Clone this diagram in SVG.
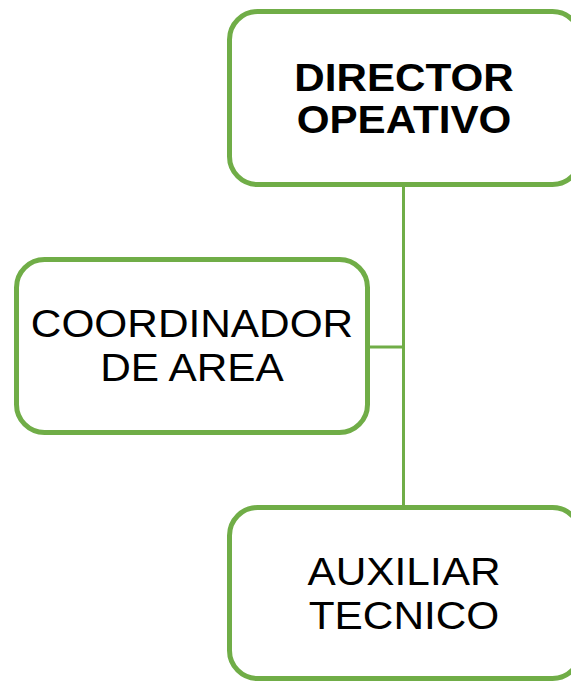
<svg xmlns="http://www.w3.org/2000/svg" width="571" height="681" viewBox="0 0 571 681">
<style>
.box{fill:#fff;stroke:#70AD47;stroke-width:5}
.conn{stroke:#70AD47;stroke-width:3;fill:none}
.t{font-family:"Liberation Sans",Arial,sans-serif;font-size:38.5px;text-anchor:middle;fill:#000}
.b{font-weight:bold}
</style>
<rect width="571" height="681" fill="#fff"/>
<g id="connectors">
<path class="conn" d="M403.5 187 V507"/>
<path class="conn" d="M369 347 H403.5"/>
</g>
<g id="director">
<rect class="box" x="229.5" y="11.5" width="351" height="173" rx="28"/>
<g transform="translate(404,0) scale(1.095,1)">
<text class="t b" x="0" y="91">DIRECTOR</text>
<text class="t b" x="0" y="133">OPEATIVO</text>
</g>
</g>
<g id="coordinador">
<rect class="box" x="16.5" y="259.5" width="351" height="173" rx="28"/>
<g transform="translate(192,0) scale(1.1,1)">
<text class="t" x="0" y="337">COORDINADOR</text>
<text class="t" x="0" y="381">DE AREA</text>
</g>
</g>
<g id="auxiliar">
<rect class="box" x="229.5" y="507.5" width="351" height="171" rx="28"/>
<g transform="translate(404,0) scale(1.1,1)">
<text class="t" x="0" y="585">AUXILIAR</text>
<text class="t" x="0" y="629">TECNICO</text>
</g>
</g>
</svg>
